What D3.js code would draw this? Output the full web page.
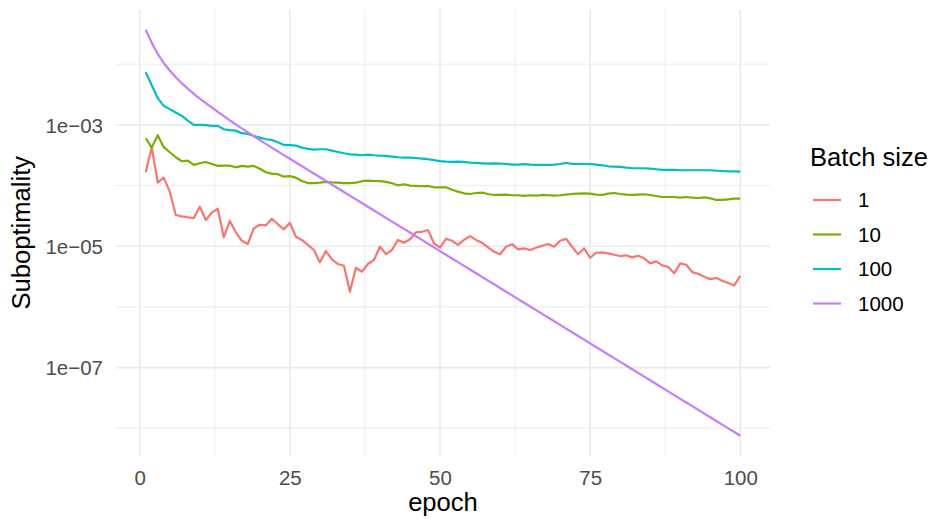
<!DOCTYPE html>
<html>
<head>
<meta charset="utf-8">
<script src="https://cdn.jsdelivr.net/npm/d3@7"></script>
<style>
  html, body { margin: 0; padding: 0; background: #ffffff; }
  svg { display: block; font-family: "Liberation Sans", Arial, Helvetica, sans-serif; }
</style>
</head>
<body>
<svg id="chart" width="935" height="519"></svg>
<script>
// Suboptimality per epoch for each batch size
const epochs = d3.range(1, 101);

const batch1 = [
  1.66e-4, 4.29e-4, 1.12e-4, 1.35e-4, 7.93e-5, 3.27e-5, 3.11e-5, 3.00e-5, 2.92e-5, 4.48e-5,
  2.71e-5, 3.57e-5, 4.16e-5, 1.40e-5, 2.63e-5, 1.71e-5, 1.23e-5, 1.09e-5, 1.97e-5, 2.26e-5,
  2.21e-5, 2.84e-5, 2.30e-5, 1.90e-5, 2.44e-5, 1.43e-5, 1.27e-5, 1.05e-5, 8.66e-6, 5.42e-6,
  8.33e-6, 6.08e-6, 5.09e-6, 4.77e-6, 1.78e-6, 4.42e-6, 3.80e-6, 5.09e-6, 5.92e-6, 9.81e-6,
  7.43e-6, 8.66e-6, 1.27e-5, 1.14e-5, 1.30e-5, 1.70e-5, 1.73e-5, 1.85e-5, 1.12e-5, 9.52e-6,
  1.32e-5, 1.23e-5, 1.05e-5, 1.27e-5, 1.47e-5, 1.27e-5, 1.14e-5, 9.59e-6, 8.11e-6, 7.35e-6,
  9.81e-6, 1.08e-5, 8.89e-6, 9.23e-6, 8.66e-6, 9.45e-6, 1.02e-5, 1.09e-5, 9.81e-6, 1.23e-5,
  1.32e-5, 9.81e-6, 7.35e-6, 9.23e-6, 6.46e-6, 7.81e-6, 7.93e-6, 7.63e-6, 7.24e-6, 6.89e-6,
  7.08e-6, 6.56e-6, 6.97e-6, 6.32e-6, 5.22e-6, 5.63e-6, 4.84e-6, 4.54e-6, 3.57e-6, 5.22e-6,
  4.95e-6, 3.75e-6, 3.52e-6, 3.14e-6, 2.87e-6, 2.99e-6, 2.70e-6, 2.47e-6, 2.26e-6, 3.26e-6
];

const batch10 = [
  6.03e-4, 4.22e-4, 6.76e-4, 4.29e-4, 3.54e-4, 2.93e-4, 2.52e-4, 2.58e-4, 2.19e-4, 2.33e-4,
  2.45e-4, 2.27e-4, 2.11e-4, 2.13e-4, 2.13e-4, 2.00e-4, 2.11e-4, 2.05e-4, 2.11e-4, 1.89e-4,
  1.66e-4, 1.57e-4, 1.54e-4, 1.40e-4, 1.43e-4, 1.35e-4, 1.19e-4, 1.10e-4, 1.10e-4, 1.12e-4,
  1.15e-4, 1.13e-4, 1.12e-4, 1.10e-4, 1.10e-4, 1.12e-4, 1.18e-4, 1.21e-4, 1.19e-4, 1.18e-4,
  1.15e-4, 1.09e-4, 1.01e-4, 1.05e-4, 9.96e-5, 9.85e-5, 9.74e-5, 9.85e-5, 9.37e-5, 9.37e-5,
  9.37e-5, 8.56e-5, 7.93e-5, 7.46e-5, 7.27e-5, 7.55e-5, 7.64e-5, 7.27e-5, 7.00e-5, 7.00e-5,
  7.08e-5, 6.92e-5, 6.92e-5, 6.74e-5, 6.92e-5, 6.81e-5, 7.00e-5, 6.92e-5, 6.81e-5, 6.92e-5,
  7.08e-5, 7.27e-5, 7.35e-5, 7.46e-5, 7.35e-5, 7.10e-5, 7.00e-5, 7.35e-5, 7.55e-5, 7.27e-5,
  7.08e-5, 7.00e-5, 7.08e-5, 7.19e-5, 7.00e-5, 6.74e-5, 6.48e-5, 6.48e-5, 6.48e-5, 6.32e-5,
  6.48e-5, 6.32e-5, 6.24e-5, 6.41e-5, 6.17e-5, 5.79e-5, 5.79e-5, 5.94e-5, 6.08e-5, 6.08e-5
];

const batch100 = [
  7.41e-3, 4.52e-3, 2.76e-3, 2.06e-3, 1.82e-3, 1.60e-3, 1.42e-3, 1.18e-3, 1.00e-3, 1.00e-3,
  9.89e-4, 9.63e-4, 9.63e-4, 8.49e-4, 8.18e-4, 8.05e-4, 7.30e-4, 7.10e-4, 6.58e-4, 6.17e-4,
  5.81e-4, 5.66e-4, 5.18e-4, 4.68e-4, 4.64e-4, 4.55e-4, 4.22e-4, 4.02e-4, 3.91e-4, 3.97e-4,
  3.97e-4, 3.77e-4, 3.58e-4, 3.41e-4, 3.28e-4, 3.24e-4, 3.16e-4, 3.24e-4, 3.16e-4, 3.11e-4,
  3.08e-4, 3.00e-4, 2.93e-4, 2.89e-4, 2.89e-4, 2.85e-4, 2.78e-4, 2.72e-4, 2.62e-4, 2.53e-4,
  2.48e-4, 2.45e-4, 2.48e-4, 2.45e-4, 2.39e-4, 2.36e-4, 2.33e-4, 2.30e-4, 2.33e-4, 2.30e-4,
  2.27e-4, 2.21e-4, 2.21e-4, 2.25e-4, 2.21e-4, 2.19e-4, 2.19e-4, 2.19e-4, 2.21e-4, 2.27e-4,
  2.36e-4, 2.27e-4, 2.27e-4, 2.27e-4, 2.25e-4, 2.21e-4, 2.16e-4, 2.08e-4, 2.05e-4, 2.03e-4,
  1.97e-4, 1.93e-4, 1.93e-4, 1.93e-4, 1.90e-4, 1.86e-4, 1.81e-4, 1.81e-4, 1.81e-4, 1.79e-4,
  1.79e-4, 1.79e-4, 1.79e-4, 1.79e-4, 1.79e-4, 1.76e-4, 1.74e-4, 1.72e-4, 1.72e-4, 1.70e-4
];

const batch1000 = [
  3.70e-2, 2.25e-2, 1.48e-2, 1.05e-2, 7.90e-3, 6.12e-3, 4.88e-3, 3.96e-3, 3.26e-3, 2.72e-3,
  2.28e-3, 1.94e-3, 1.64e-3, 1.40e-3, 1.19e-3, 1.02e-3, 8.77e-4, 7.55e-4, 6.51e-4, 5.62e-4,
  4.87e-4, 4.22e-4, 3.66e-4, 3.18e-4, 2.77e-4, 2.405e-4, 2.09e-4, 1.817e-4, 1.579e-4, 1.373e-4,
  1.193e-4, 1.037e-4, 9.02e-5, 7.84e-5, 6.81e-5, 5.92e-5, 5.15e-5, 4.47e-5, 3.89e-5, 3.38e-5,
  2.94e-5, 2.55e-5, 2.22e-5, 1.93e-5, 1.68e-5, 1.46e-5, 1.27e-5, 1.10e-5, 9.57e-6, 8.32e-6,
  7.23e-6, 6.28e-6, 5.46e-6, 4.75e-6, 4.13e-6, 3.59e-6, 3.12e-6, 2.71e-6, 2.36e-6, 2.05e-6,
  1.78e-6, 1.55e-6, 1.345e-6, 1.169e-6, 1.016e-6, 8.83e-7, 7.68e-7, 6.67e-7, 5.80e-7, 5.04e-7,
  4.38e-7, 3.81e-7, 3.31e-7, 2.88e-7, 2.50e-7, 2.17e-7, 1.89e-7, 1.64e-7, 1.43e-7, 1.24e-7,
  1.078e-7, 9.37e-8, 8.15e-8, 7.08e-8, 6.16e-8, 5.35e-8, 4.65e-8, 4.04e-8, 3.51e-8, 3.05e-8,
  2.65e-8, 2.31e-8, 2.01e-8, 1.74e-8, 1.515e-8, 1.317e-8, 1.145e-8, 9.95e-9, 8.65e-9, 7.52e-9
];

const batchSizes = ["1", "10", "100", "1000"];
const seriesValues = [batch1, batch10, batch100, batch1000];
const seriesColors = ["#F8766D", "#7CAE00", "#00BFC4", "#C77CFF"];

const xTicks = [0, 25, 50, 75, 100];
const xMinorTicks = [12.5, 37.5, 62.5, 87.5];
const yTicks = [1e-3, 1e-5, 1e-7];
const yTickLabels = ["1e\u221203", "1e\u221205", "1e\u221207"];
const yMinorTicks = [1e-2, 1e-4, 1e-6, 1e-8];

// Panel geometry
const panel = { left: 116, right: 770, top: 9.5, bottom: 456 };

const svg = d3.select("#chart");

// x scale with 5% expansion on each side
const xExt = d3.extent(epochs);
const xPad = (xExt[1] - xExt[0]) * 0.05;
const x = d3.scaleLinear()
  .domain([xExt[0] - xPad, xExt[1] + xPad])
  .range([panel.left, panel.right]);

// log y scale with 5% expansion in log space
const allVals = seriesValues.flat();
const lmin = Math.log10(d3.min(allVals));
const lmax = Math.log10(d3.max(allVals));
const lPad = (lmax - lmin) * 0.05;
const y = d3.scaleLog()
  .domain([Math.pow(10, lmin - lPad), Math.pow(10, lmax + lPad)])
  .range([panel.bottom, panel.top]);

const grid = svg.append("g").attr("class", "grid");

// minor grid
grid.selectAll("line.ymin").data(yMinorTicks).join("line")
  .attr("x1", panel.left).attr("x2", panel.right)
  .attr("y1", d => y(d)).attr("y2", d => y(d))
  .attr("stroke", "#ebebeb").attr("stroke-width", 0.9);
grid.selectAll("line.xmin").data(xMinorTicks).join("line")
  .attr("y1", panel.top).attr("y2", panel.bottom)
  .attr("x1", d => x(d)).attr("x2", d => x(d))
  .attr("stroke", "#ebebeb").attr("stroke-width", 0.9);

// major grid
grid.selectAll("line.ymaj").data(yTicks).join("line")
  .attr("x1", panel.left).attr("x2", panel.right)
  .attr("y1", d => y(d)).attr("y2", d => y(d))
  .attr("stroke", "#ebebeb").attr("stroke-width", 1.7);
grid.selectAll("line.xmaj").data(xTicks).join("line")
  .attr("y1", panel.top).attr("y2", panel.bottom)
  .attr("x1", d => x(d)).attr("x2", d => x(d))
  .attr("stroke", "#ebebeb").attr("stroke-width", 1.7);

// series lines
const line = d3.line()
  .x((d, i) => x(epochs[i]))
  .y(d => y(d));

svg.append("g").selectAll("path").data(seriesValues).join("path")
  .attr("d", d => line(d))
  .attr("fill", "none")
  .attr("stroke", (d, i) => seriesColors[i])
  .attr("stroke-width", 2.2)
  .attr("stroke-linejoin", "round");

// x axis
const xAxis = d3.axisBottom(x).tickValues(xTicks).tickSize(0).tickPadding(0);
const gx = svg.append("g").attr("transform", `translate(0,${panel.bottom})`).call(xAxis);
gx.select(".domain").remove();
gx.selectAll("text")
  .attr("dy", null).attr("y", 29)
  .attr("fill", "#4d4d4d")
  .style("font-size", "20.5px")
  .style("font-family", "'Liberation Sans', Arial, sans-serif");

// y axis
const yAxis = d3.axisLeft(y).tickValues(yTicks)
  .tickFormat((d, i) => yTickLabels[i]).tickSize(0).tickPadding(0);
const gy = svg.append("g").attr("transform", `translate(${panel.left - 13},0)`).call(yAxis);
gy.select(".domain").remove();
gy.selectAll("text")
  .attr("dy", "0.35em").attr("x", 0)
  .attr("fill", "#4d4d4d")
  .style("font-size", "20.5px")
  .style("font-family", "'Liberation Sans', Arial, sans-serif");

// axis titles
svg.append("text")
  .attr("x", (panel.left + panel.right) / 2).attr("y", 511)
  .attr("text-anchor", "middle")
  .attr("fill", "#000")
  .style("font-size", "25.6px")
  .text("epoch");

svg.append("text")
  .attr("transform", `translate(30,${(panel.top + panel.bottom) / 2}) rotate(-90)`)
  .attr("text-anchor", "middle")
  .attr("fill", "#000")
  .style("font-size", "25.6px")
  .text("Suboptimality");

// legend
const legend = svg.append("g").attr("transform", "translate(810,0)");
legend.append("text")
  .attr("x", 0).attr("y", 166)
  .attr("fill", "#000")
  .style("font-size", "25.6px")
  .text("Batch size");

const items = legend.selectAll("g.item").data(batchSizes).join("g")
  .attr("class", "item")
  .attr("transform", (d, i) => `translate(0,${200 + i * 34.5})`);
items.append("line")
  .attr("x1", 3).attr("x2", 31).attr("y1", 0).attr("y2", 0)
  .attr("stroke", (d, i) => seriesColors[i])
  .attr("stroke-width", 2.2);
items.append("text")
  .attr("x", 48).attr("y", 0).attr("dy", "0.36em")
  .attr("fill", "#000")
  .style("font-size", "20.5px")
  .text(d => d);
</script>
</body>
</html>
